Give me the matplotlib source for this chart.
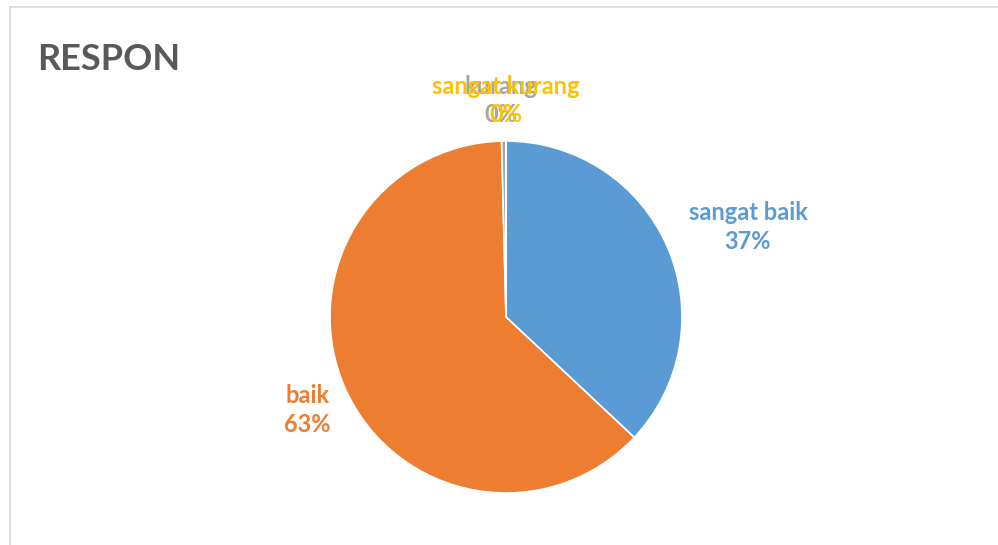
import numpy as np
import matplotlib.pyplot as plt
from matplotlib.lines import Line2D

"""pie chart of respon"""

labels = ['sangat baik', 'baik', 'kurang', 'sangat kurang']
values = [37.0, 62.6, 0.4, 0.0]
colors = ['#5B9BD5', '#ED7D31', '#A5A5A5', '#FFC000']

plt.rcParams['font.family'] = ['Lato', 'DejaVu Sans']

fig = plt.figure(figsize=(9.98, 5.45), dpi=100)
W, H = 998, 545

# frame lines (top and left)
fig.add_artist(Line2D([10 / W, 1], [1 - 7 / H, 1 - 7 / H], color='#D9D9D9', lw=1.2))
fig.add_artist(Line2D([10 / W, 10 / W], [0, 1 - 7 / H], color='#D9D9D9', lw=1.2))

fig.text(37 / W, 1 - 59 / H, 'RESPON', fontsize=26, fontweight='bold',
         color='#595959', va='center', ha='left')

cx, cy, r = 506, 545 - 317, 176
ax = fig.add_axes([(cx - r) / W, (cy - r) / H, 2 * r / W, 2 * r / H])
wedges, _ = ax.pie(values, colors=colors, startangle=90, counterclock=False,
                   radius=1, wedgeprops=dict(linewidth=1.2, edgecolor='white'))
ax.set_xlim(-1, 1)
ax.set_ylim(-1, 1)
ax.set_aspect('auto')
ax.axis('off')

# label placement (outside end, like excel)
label_xy = {'sangat baik': (1.375, 0.51), 'baik': (-1.13, -0.53),
            'kurang': (-0.03, 1.23), 'sangat kurang': (0.0, 1.23)}

total = sum(values)
for lab, v, col in zip(labels, values, colors):
    x, y = label_xy[lab]
    ax.text(x, y, '%s\n%d%%' % (lab, round(v / total * 100)), color=col,
            fontsize=17, fontweight='bold', ha='center', va='center',
            linespacing=1.3, clip_on=False)

fig.savefig('out.png', dpi=100)
